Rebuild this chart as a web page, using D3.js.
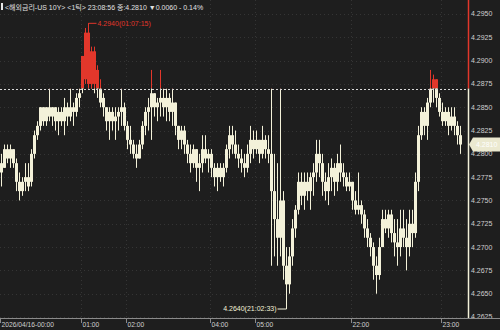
<!DOCTYPE html>
<html>
<head>
<meta charset="utf-8">
<script src="https://cdn.jsdelivr.net/npm/d3@7"></script>
<style>
  html, body { margin: 0; padding: 0; background: #1e1e1e; }
  svg { display: block; }
  text { font-family: "Liberation Sans", "Noto Sans CJK KR", sans-serif; }
</style>
</head>
<body>
<div id="chart"></div>
<script>
// ---------------- data (1-minute bars, US 10Y) ----------------
const opens = [
  4.2790,4.2785,4.2805,4.2795,4.2805,4.2790,4.2770,4.2760,4.2770,4.2775,
  4.2770,4.2800,4.2820,4.2830,4.2850,4.2835,4.2850,4.2840,4.2850,4.2835,
  4.2845,4.2835,4.2850,4.2840,4.2850,4.2845,4.2860,4.2870,4.2880,4.2930,
  4.2875,4.2910,4.2890,4.2870,4.2860,4.2850,4.2835,4.2845,4.2835,4.2840,
  4.2845,4.2850,4.2830,4.2815,4.2810,4.2800,4.2795,4.2810,4.2830,4.2845,
  4.2850,4.2865,4.2850,4.2855,4.2860,4.2850,4.2860,4.2845,4.2855,4.2830,
  4.2815,4.2825,4.2810,4.2800,4.2790,4.2805,4.2785,4.2790,4.2805,4.2795,
  4.2800,4.2785,4.2775,4.2785,4.2775,4.2785,4.2805,4.2820,4.2810,4.2800,
  4.2795,4.2790,4.2785,4.2800,4.2815,4.2805,4.2815,4.2800,4.2815,4.2805,
  4.2800,4.2760,4.2730,4.2710,4.2750,4.2680,4.2660,4.2690,4.2720,4.2740,
  4.2770,4.2755,4.2770,4.2760,4.2775,4.2780,4.2800,4.2790,4.2770,4.2760,
  4.2775,4.2785,4.2770,4.2790,4.2780,4.2775,4.2765,4.2770,4.2750,4.2740,
  4.2745,4.2735,4.2720,4.2710,4.2700,4.2680,4.2670,4.2700,4.2730,4.2720,
  4.2735,4.2715,4.2705,4.2700,4.2720,4.2710,4.2700,4.2725,4.2715,4.2770,
  4.2820,4.2845,4.2830,4.2855,4.2870,4.2880,4.2860,4.2845,4.2835,4.2845,
  4.2830,4.2840,4.2830,4.2820
];
const highs = [
  4.2800,4.2810,4.2810,4.2810,4.2805,4.2795,4.2780,4.2775,4.2790,4.2790,
  4.2805,4.2825,4.2835,4.2850,4.2850,4.2850,4.2870,4.2850,4.2850,4.2850,
  4.2850,4.2860,4.2855,4.2870,4.2855,4.2865,4.2870,4.2905,4.2935,4.2940,
  4.2915,4.2915,4.2895,4.2880,4.2865,4.2850,4.2850,4.2850,4.2850,4.2850,
  4.2870,4.2855,4.2835,4.2830,4.2815,4.2810,4.2815,4.2835,4.2850,4.2860,
  4.2890,4.2865,4.2860,4.2890,4.2870,4.2870,4.2865,4.2870,4.2855,4.2830,
  4.2830,4.2830,4.2815,4.2810,4.2810,4.2805,4.2800,4.2820,4.2820,4.2805,
  4.2805,4.2790,4.2790,4.2790,4.2790,4.2810,4.2830,4.2830,4.2825,4.2810,
  4.2805,4.2800,4.2810,4.2830,4.2825,4.2825,4.2815,4.2830,4.2820,4.2820,
  4.2870,4.2800,4.2790,4.2870,4.2760,4.2700,4.2700,4.2730,4.2745,4.2780,
  4.2780,4.2780,4.2780,4.2780,4.2790,4.2815,4.2815,4.2800,4.2780,4.2790,
  4.2795,4.2790,4.2800,4.2810,4.2790,4.2780,4.2780,4.2770,4.2760,4.2780,
  4.2750,4.2740,4.2730,4.2715,4.2705,4.2690,4.2710,4.2740,4.2740,4.2740,
  4.2740,4.2730,4.2730,4.2740,4.2740,4.2730,4.2740,4.2740,4.2780,4.2830,
  4.2850,4.2850,4.2860,4.2890,4.2885,4.2880,4.2865,4.2855,4.2850,4.2850,
  4.2850,4.2850,4.2835,4.2830
];
const lows = [
  4.2765,4.2785,4.2790,4.2785,4.2785,4.2760,4.2750,4.2755,4.2760,4.2760,
  4.2765,4.2795,4.2815,4.2825,4.2830,4.2830,4.2835,4.2830,4.2825,4.2820,
  4.2830,4.2820,4.2830,4.2835,4.2830,4.2840,4.2850,4.2865,4.2875,4.2870,
  4.2870,4.2865,4.2860,4.2850,4.2840,4.2825,4.2815,4.2825,4.2815,4.2825,
  4.2830,4.2825,4.2805,4.2800,4.2795,4.2785,4.2795,4.2805,4.2820,4.2825,
  4.2815,4.2840,4.2835,4.2840,4.2840,4.2835,4.2835,4.2830,4.2820,4.2805,
  4.2805,4.2800,4.2790,4.2780,4.2785,4.2770,4.2760,4.2780,4.2790,4.2780,
  4.2775,4.2765,4.2760,4.2770,4.2765,4.2780,4.2795,4.2800,4.2795,4.2785,
  4.2780,4.2775,4.2780,4.2790,4.2795,4.2800,4.2790,4.2795,4.2795,4.2790,
  4.2680,4.2690,4.2680,4.2690,4.2665,4.2640,4.2650,4.2680,4.2710,4.2735,
  4.2745,4.2740,4.2750,4.2740,4.2755,4.2770,4.2775,4.2755,4.2750,4.2745,
  4.2760,4.2755,4.2760,4.2770,4.2765,4.2760,4.2760,4.2740,4.2735,4.2735,
  4.2725,4.2710,4.2700,4.2690,4.2665,4.2650,4.2665,4.2700,4.2715,4.2710,
  4.2705,4.2690,4.2680,4.2690,4.2700,4.2675,4.2690,4.2700,4.2710,4.2760,
  4.2815,4.2820,4.2815,4.2850,4.2855,4.2850,4.2840,4.2830,4.2830,4.2820,
  4.2825,4.2820,4.2810,4.2800
];
const closes = [
  4.2780,4.2805,4.2795,4.2805,4.2790,4.2770,4.2760,4.2770,4.2775,4.2765,
  4.2800,4.2820,4.2830,4.2850,4.2835,4.2850,4.2840,4.2850,4.2835,4.2845,
  4.2835,4.2850,4.2840,4.2850,4.2845,4.2860,4.2865,4.2905,4.2930,4.2875,
  4.2910,4.2875,4.2870,4.2855,4.2850,4.2835,4.2845,4.2835,4.2840,4.2845,
  4.2850,4.2830,4.2815,4.2810,4.2800,4.2795,4.2810,4.2830,4.2845,4.2850,
  4.2865,4.2850,4.2855,4.2860,4.2850,4.2860,4.2845,4.2855,4.2830,4.2815,
  4.2825,4.2810,4.2800,4.2790,4.2805,4.2785,4.2790,4.2805,4.2795,4.2800,
  4.2785,4.2775,4.2785,4.2775,4.2785,4.2805,4.2820,4.2810,4.2800,4.2795,
  4.2790,4.2785,4.2800,4.2815,4.2805,4.2815,4.2800,4.2815,4.2805,4.2800,
  4.2760,4.2730,4.2710,4.2750,4.2680,4.2660,4.2690,4.2720,4.2740,4.2770,
  4.2755,4.2770,4.2760,4.2775,4.2780,4.2800,4.2790,4.2770,4.2760,4.2775,
  4.2785,4.2770,4.2790,4.2780,4.2775,4.2765,4.2770,4.2750,4.2740,4.2745,
  4.2735,4.2720,4.2710,4.2700,4.2680,4.2670,4.2700,4.2730,4.2720,4.2735,
  4.2715,4.2705,4.2700,4.2720,4.2710,4.2700,4.2725,4.2715,4.2770,4.2820,
  4.2845,4.2830,4.2855,4.2870,4.2880,4.2860,4.2845,4.2835,4.2845,4.2830,
  4.2840,4.2830,4.2820,4.2810
];
const timeTickIdx = [0, 27, 42, 70, 85, 117, 147];
const timeTickLabels = ["2026/04/16-00:00", "01:00", "02:00", "04:00", "05:00", "22:00", "23:00"];
const priceTicks = [4.2625, 4.2650, 4.2675, 4.2700, 4.2725, 4.2750, 4.2775, 4.2800,
                    4.2825, 4.2850, 4.2875, 4.2900, 4.2925, 4.2950];
const prevClose = 4.2870;
const lastPrice = 4.2810;
const maxIdx = 29, maxLabel = "4.2940(01:07:15)";
const minIdx = 95, minLabel = "4.2640(21:02:33)";
const title = "<해외금리-US 10Y> <1틱> 23:08:56 종:4.2810 ▼0.0060 - 0.14%";

// ---------------- layout ----------------
const W = 500, H = 330;
const plotRight = 462, axisX = 468.5, axisY = 318;
const CREAM = "#f3f1d9", RED = "#e2372b", GRID = "#353535";

const svg = d3.select("#chart").append("svg").attr("width", W).attr("height", H);
svg.append("rect").attr("width", W).attr("height", H).attr("fill", "#1e1e1e");

const x = d3.scaleBand().domain(d3.range(opens.length)).range([0, plotRight]);
const y = d3.scaleLinear().domain([4.2625, 4.2950]).range([317, 14]);
const yBase = y(prevClose);

// grid
svg.append("g").selectAll("line").data(priceTicks).join("line")
  .attr("x1", 0).attr("x2", axisX).attr("y1", d => Math.round(y(d)) + 0.5).attr("y2", d => Math.round(y(d)) + 0.5)
  .attr("stroke", GRID).attr("stroke-dasharray", "1,3");
svg.append("g").selectAll("line").data(timeTickIdx.slice(1)).join("line")
  .attr("x1", d => x(d) + 0.5).attr("x2", d => x(d) + 0.5).attr("y1", 0).attr("y2", axisY)
  .attr("stroke", GRID).attr("stroke-dasharray", "1,3");

// candles, drawn twice: red above prev close, cream below
const defs = svg.append("defs");
defs.append("clipPath").attr("id", "above").append("rect")
  .attr("x", 0).attr("y", 0).attr("width", W).attr("height", yBase);
defs.append("clipPath").attr("id", "below").append("rect")
  .attr("x", 0).attr("y", yBase).attr("width", W).attr("height", H - yBase);

const bars = d3.range(opens.length);
[["above", RED], ["below", CREAM]].forEach(([clip, col]) => {
  const g = svg.append("g").attr("clip-path", `url(#${clip})`);
  g.selectAll(".wick").data(bars).join("rect")
    .attr("x", i => x(i) + 1)
    .attr("y", i => y(highs[i]))
    .attr("width", 1)
    .attr("height", i => Math.max(1, y(lows[i]) - y(highs[i])))
    .attr("fill", col);
  g.selectAll(".body").data(bars).join("rect")
    .attr("x", i => x(i))
    .attr("y", i => y(Math.max(opens[i], closes[i])))
    .attr("width", x.bandwidth())
    .attr("height", i => Math.max(1.5, Math.abs(y(opens[i]) - y(closes[i]))))
    .attr("fill", col);
});

// prev close dashed line
svg.append("line")
  .attr("x1", 0).attr("x2", axisX).attr("y1", Math.round(yBase) + 0.5).attr("y2", Math.round(yBase) + 0.5)
  .attr("stroke", "#d8d8d8").attr("stroke-dasharray", "2,2");

// right axis line
svg.append("line").attr("x1", axisX).attr("x2", axisX).attr("y1", 0).attr("y2", yBase)
  .attr("stroke", RED).attr("stroke-width", 1.5);
svg.append("line").attr("x1", axisX).attr("x2", axisX).attr("y1", yBase).attr("y2", axisY)
  .attr("stroke", CREAM).attr("stroke-width", 1.5);

// price labels
svg.append("g").selectAll("text").data(priceTicks).join("text")
  .attr("x", 471).attr("y", d => y(d)).attr("dy", "0.35em")
  .attr("font-size", 7).attr("fill", "#cfcfcf")
  .text(d => d3.format(".4f")(d));

// current price box
const yl = y(lastPrice);
svg.append("path")
  .attr("d", `M469,${yl} L473,${yl - 7} L500,${yl - 7} L500,${yl + 7} L473,${yl + 7} Z`)
  .attr("fill", "#ebe9d0");
svg.append("text").attr("x", 476).attr("y", yl).attr("dy", "0.35em")
  .attr("font-size", 7).attr("fill", "#ffffff").text(d3.format(".4f")(lastPrice));

// bottom axis
svg.append("line").attr("x1", 0).attr("x2", W).attr("y1", axisY + 0.5).attr("y2", axisY + 0.5)
  .attr("stroke", "#8a8a8a");
const tg = svg.append("g").selectAll("g").data(timeTickIdx).join("g")
  .attr("transform", d => `translate(${x(d) + 0.5},0)`);
tg.append("line").attr("y1", axisY).attr("y2", axisY + 5).attr("stroke", "#8a8a8a");
tg.append("text").attr("x", 1).attr("y", 327)
  .attr("font-size", 6.7).attr("fill", "#d0d0d0")
  .text((d, i) => timeTickLabels[i]);

// max / min markers
const mx = x(maxIdx) + 1.5, my = y(highs[maxIdx]);
svg.append("path").attr("d", `M${mx},${my + 4} V${my} H${mx + 8}`)
  .attr("fill", "none").attr("stroke", RED);
svg.append("text").attr("x", mx + 9).attr("y", my).attr("dy", "0.35em")
  .attr("font-size", 7).attr("fill", RED).text(maxLabel);

const nx = x(minIdx) + 1.5, ny = y(lows[minIdx]);
svg.append("path").attr("d", `M${nx},${ny} V${ny + 6} H${nx - 9}`)
  .attr("fill", "none").attr("stroke", CREAM);
svg.append("text").attr("x", nx - 10).attr("y", ny + 6).attr("dy", "0.35em")
  .attr("text-anchor", "end").attr("font-size", 7).attr("fill", CREAM).text(minLabel);

// header
svg.append("rect").attr("x", 1).attr("y", 3).attr("width", 2).attr("height", 7).attr("fill", "#e8e8e8");
svg.append("text").attr("x", 5).attr("y", 10)
  .attr("font-size", 7).attr("fill", "#e0e0e0").text(title);
</script>
</body>
</html>
